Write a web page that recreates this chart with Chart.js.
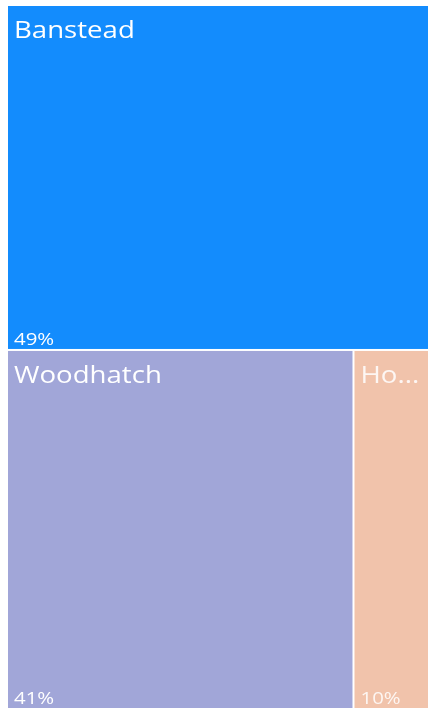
<!DOCTYPE html>
<html lang="en">
<head>
  <meta charset="UTF-8" />
  <title>Treemap</title>
  <script src="https://cdn.jsdelivr.net/npm/chart.js"></script>
  <style>
    * { box-sizing: border-box; margin: 0; padding: 0; }
    html, body { width: 428px; height: 709px; overflow: hidden; background: #fff; }
    .wrap { width: 438px; height: 709px; position: relative; }
  </style>
</head>
<body>
  <div class="wrap"><canvas id="tree"></canvas></div>

  <script>
    const labels = ["Banstead", "Woodhatch", "Horley"];
    const values = [49, 41, 10];
    const colors = ["#138cfd", "#a1a6d8", "#f1c3ab"];
    const textColors = ["#ffffff", "#ffffff", "rgba(255,255,255,0.85)"];

    const STRETCH = 1.2;

    // squarified layout inside a pixel rect
    function worst(row, side) {
      const s = row.reduce((t, o) => t + o.a, 0);
      let w = 0;
      row.forEach(o => {
        w = Math.max(w, (side * side * o.a) / (s * s), (s * s) / (side * side * o.a));
      });
      return w;
    }

    function squarify(vals, rect) {
      const total = vals.reduce((a, b) => a + b, 0);
      const area = rect.w * rect.h;
      let items = vals.map((v, i) => ({ a: v / total * area, i }));
      let r = { ...rect };
      const out = [];
      while (items.length) {
        const side = Math.min(r.w, r.h);
        let row = [items[0]];
        let k = 1;
        while (k < items.length && worst(row.concat(items[k]), side) <= worst(row, side)) {
          row.push(items[k]);
          k++;
        }
        items = items.slice(k);
        const s = row.reduce((t, o) => t + o.a, 0);
        if (r.w <= r.h) {
          const rh = s / r.w;
          let x = r.x;
          row.forEach(o => { const w = o.a / rh; out[o.i] = { x, y: r.y, w, h: rh }; x += w; });
          r = { x: r.x, y: r.y + rh, w: r.w, h: r.h - rh };
        } else {
          const rw = s / r.h;
          let y = r.y;
          row.forEach(o => { const h = o.a / rw; out[o.i] = { x: r.x, y, w: rw, h }; y += h; });
          r = { x: r.x + rw, y: r.y, w: r.w - rw, h: r.h };
        }
      }
      return out;
    }

    function fitText(ctx, text, maxW) {
      if (ctx.measureText(text).width * STRETCH <= maxW) return text;
      let t = text;
      while (t.length > 1 && ctx.measureText(t + "...").width * STRETCH > maxW) t = t.slice(0, -1);
      return t + "...";
    }

    function drawText(ctx, text, x, y) {
      ctx.save();
      ctx.translate(x, y);
      ctx.scale(STRETCH, 1);
      ctx.fillText(text, 0, 0);
      ctx.restore();
    }

    const treemapPlugin = {
      id: "treemap",
      afterDraw(chart) {
        const ctx = chart.ctx;
        const xs = chart.scales.x, ys = chart.scales.y;
        const x0 = xs.getPixelForValue(0), x1 = xs.getPixelForValue(1);
        const y0 = ys.getPixelForValue(0), y1 = ys.getPixelForValue(1);
        const cells = squarify(values, { x: x0, y: y0, w: x1 - x0, h: y1 - y0 });
        const total = values.reduce((a, b) => a + b, 0);

        cells.forEach((c, i) => {
          ctx.fillStyle = colors[i];
          ctx.fillRect(c.x + 1, c.y + 1, c.w - 2, c.h - 2);

          ctx.fillStyle = textColors[i];
          ctx.textAlign = "left";
          ctx.textBaseline = "alphabetic";
          ctx.font = "23px 'Open Sans', sans-serif";
          const name = fitText(ctx, labels[i], c.w - 18);
          drawText(ctx, name, c.x + 7, c.y + 33);

          ctx.font = "17px 'Open Sans', sans-serif";
          const pct = Math.round(values[i] / total * 100) + "%";
          drawText(ctx, pct, c.x + 7, c.y + c.h - 5);
        });
      }
    };

    new Chart(document.getElementById("tree"), {
      type: "scatter",
      data: { datasets: [{ data: [] }] },
      options: {
        responsive: true,
        maintainAspectRatio: false,
        animation: false,
        layout: { padding: { left: 7, top: 5, right: 0, bottom: 0 } },
        scales: {
          x: { display: false, min: 0, max: 1 },
          y: { display: false, min: 0, max: 1, reverse: true }
        },
        plugins: { legend: { display: false }, tooltip: { enabled: false } }
      },
      plugins: [treemapPlugin]
    });
  </script>
</body>
</html>
